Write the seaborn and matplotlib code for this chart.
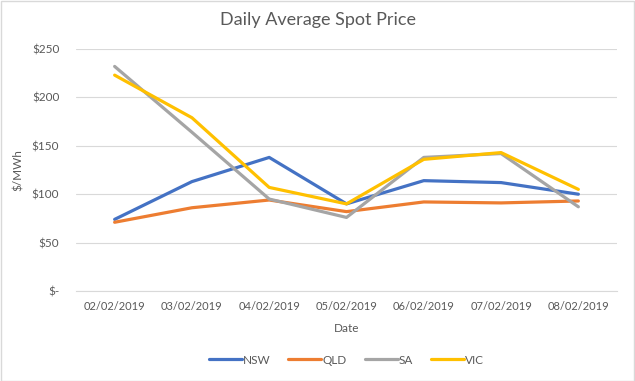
import matplotlib
matplotlib.use("Agg")
import matplotlib.pyplot as plt
import seaborn as sns
import pandas as pd
from matplotlib.ticker import FuncFormatter, FixedLocator

dates = ["02/02/2019", "03/02/2019", "04/02/2019", "05/02/2019",
         "06/02/2019", "07/02/2019", "08/02/2019"]
nsw = [74, 113, 138, 90, 114, 112, 100]
qld = [71, 86, 94, 82, 92, 91, 93]
sa = [232, 164, 95, 76, 138, 142, 87]
vic = [223, 179, 107, 90, 136, 143, 105]

regions = ["NSW", "QLD", "SA", "VIC"]
colors = ["#4472C4", "#ED7D31", "#A5A5A5", "#FFC000"]

rows = []
for name, vals in zip(regions, [nsw, qld, sa, vic]):
    for i, (d, v) in enumerate(zip(dates, vals)):
        rows.append({"idx": i, "Date": d, "Region": name, "Price": v})
df = pd.DataFrame(rows)

sns.set_style("white")
plt.rcParams["font.family"] = ["Lato", "DejaVu Sans"]
text_col = "#595959"

fig = plt.figure(figsize=(6.35, 3.81), dpi=100)
ax = fig.add_axes([76 / 635, 1 - 291 / 381, (617 - 76) / 635, (291 - 49) / 381])

sns.lineplot(data=df, x="idx", y="Price", hue="Region", palette=colors,
             hue_order=regions, linewidth=2.3, ax=ax, legend=True)

# category axis like Excel: ticks between categories
ax.set_xlim(-0.5, len(dates) - 0.5)
ax.set_ylim(0, 250)
ax.set_yticks([0, 50, 100, 150, 200, 250])
ax.yaxis.set_major_formatter(FuncFormatter(lambda v, p: "$-" if v == 0 else f"${int(v)}"))
ax.set_xticks(range(len(dates)))
ax.set_xticklabels(dates)
ax.xaxis.set_minor_locator(FixedLocator([i - 0.5 for i in range(len(dates) + 1)]))
ax.tick_params(axis="x", which="major", length=0, pad=7, labelsize=8, colors=text_col)
ax.tick_params(axis="x", which="minor", length=5, color="#d9d9d9", width=0.8)
ax.tick_params(axis="y", length=0, pad=12, labelsize=8.5, colors=text_col)
ax.grid(axis="y", color="#d9d9d9", linewidth=0.8)
ax.set_axisbelow(True)
for s in ["top", "right", "left"]:
    ax.spines[s].set_visible(False)
ax.spines["bottom"].set_color("#d9d9d9")
ax.spines["bottom"].set_linewidth(0.8)

ax.set_xlabel("Date", fontsize=8.5, color=text_col, labelpad=8)
ax.set_ylabel("$/MWh", fontsize=8.5, color=text_col, labelpad=6)
fig.text(0.5, 1 - 20 / 381, "Daily Average Spot Price", ha="center", va="center",
         fontsize=13, color=text_col)

handles, labels = ax.get_legend_handles_labels()
ax.legend(handles, labels, loc="center", bbox_to_anchor=(0.5, -(360 - 291) / 242),
          ncol=4, frameon=False, fontsize=8.5, handlelength=2.8, handletextpad=0.1,
          columnspacing=1.5, labelcolor=text_col)

# light border round the chart area
fig.patches.append(plt.Rectangle((0.001, 0.001), 0.997, 0.997, transform=fig.transFigure,
                                 fill=False, edgecolor="#d9d9d9", linewidth=1))

fig.savefig("out.png", dpi=100)
